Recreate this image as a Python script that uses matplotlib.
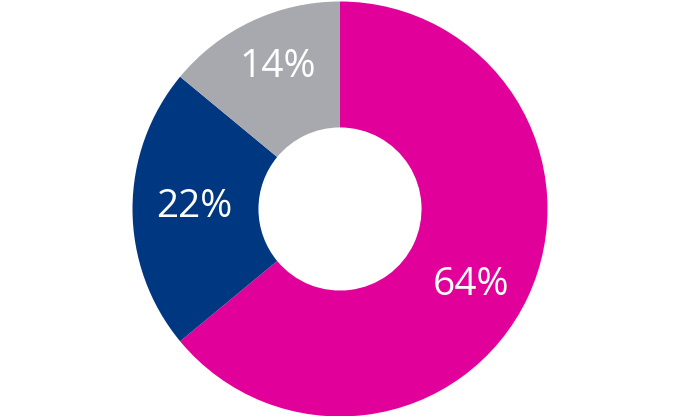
import matplotlib
matplotlib.use("Agg")
import matplotlib.pyplot as plt

# share of each segment, clockwise from the top
labels = ['64%', '22%', '14%']
values = [64, 22, 14]
colors = ['#E2009B', '#003781', '#A8A9AE']

fig = plt.figure(figsize=(6.8, 4.16), dpi=100)
ax = fig.add_axes([0, 0, 1, 1])

R = 207.5 / 208
wedges, texts = ax.pie(values, colors=colors, startangle=90, counterclock=False,
                       radius=R, center=(0, -1 / 208),
                       wedgeprops=dict(width=R * 0.607, linewidth=0))

# white percentage labels inside the ring
pos = [(0.63, -0.37), (-0.70, 0.005), (-0.30, 0.68)]
for lab, (x, y) in zip(labels, pos):
    ax.text(x, y, lab, color='white', fontsize=28, family='Open Sans',
            ha='center', va='center')

ax.set_xlim(-340 / 208, 340 / 208)
ax.set_ylim(-1, 1)
ax.set_aspect('equal')
ax.axis('off')

fig.savefig('out.png', dpi=100)
